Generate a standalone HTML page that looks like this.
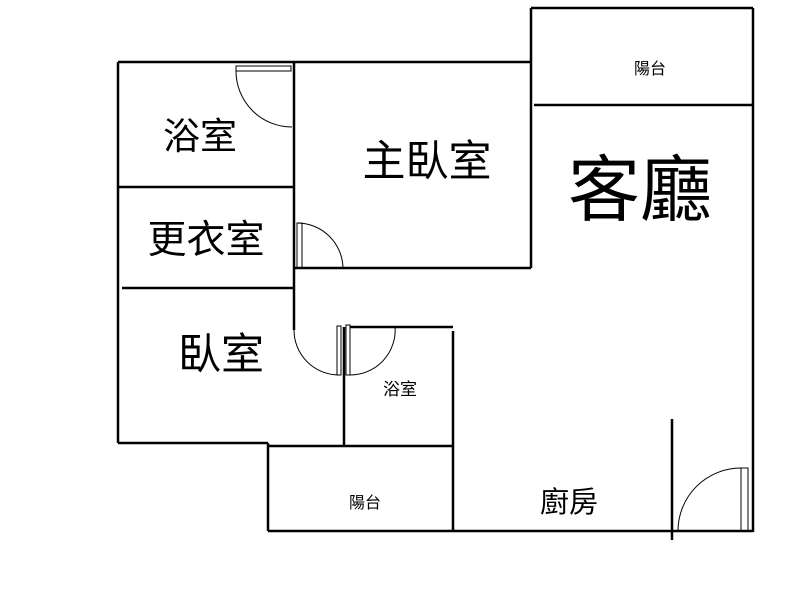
<!DOCTYPE html>
<html><head><meta charset="utf-8"><style>html,body{margin:0;background:#fff}svg{display:block}text{font-family:"Liberation Sans","Noto Sans CJK TC",sans-serif;fill:#000;text-anchor:middle}</style></head>
<body>
<svg width="800" height="600" viewBox="0 0 800 600" xmlns="http://www.w3.org/2000/svg">
<g stroke="#000" stroke-width="2.5" fill="none">
<line x1="118" y1="62" x2="118" y2="443"/>
<line x1="118" y1="62" x2="531" y2="62"/>
<line x1="531" y1="8" x2="753" y2="8"/>
<line x1="753" y1="8" x2="753" y2="532"/>
<line x1="531" y1="8" x2="531" y2="268"/>
<line x1="534" y1="105" x2="752" y2="105"/>
<line x1="294" y1="62" x2="294" y2="330"/>
<line x1="294" y1="268" x2="531" y2="268"/>
<line x1="118" y1="187" x2="294" y2="187"/>
<line x1="122" y1="288" x2="294" y2="288"/>
<line x1="118" y1="443" x2="268" y2="443"/>
<line x1="268" y1="443" x2="268" y2="531"/>
<line x1="268" y1="531" x2="753" y2="531"/>
<line x1="350" y1="327" x2="453" y2="327"/>
<line x1="453" y1="331" x2="453" y2="531"/>
<line x1="344" y1="327" x2="344" y2="446"/>
<line x1="268" y1="446" x2="453" y2="446"/>
<line x1="672" y1="419" x2="672" y2="540"/>
</g>
<g stroke="#000" stroke-width="1" fill="none">
<rect x="236" y="66" width="55" height="5"/>
<path d="M236 71 A56 56 0 0 0 292 127"/>
<rect x="297" y="223" width="5" height="45"/>
<path d="M297 223 A46 46 0 0 1 343 268"/>
<rect x="337" y="326" width="4" height="49"/>
<path d="M294 330 A45 45 0 0 0 339 375"/>
<rect x="346" y="325" width="4" height="50"/>
<path d="M350 375 A45 45 0 0 0 395 326"/>
<rect x="741" y="468" width="7" height="63"/>
<path d="M678 531 A63 63 0 0 1 741 468"/>
</g>
<text x="200" y="149" font-size="37">浴室</text>
<text x="427" y="176" font-size="43">主臥室</text>
<text x="640" y="215" font-size="72">客廳</text>
<text x="206" y="253" font-size="39">更衣室</text>
<text x="221" y="369" font-size="43">臥室</text>
<text x="400" y="395" font-size="17">浴室</text>
<text x="365" y="508" font-size="16">陽台</text>
<text x="650" y="74" font-size="16">陽台</text>
<text x="569" y="512" font-size="29">廚房</text>
</svg>
</body></html>
